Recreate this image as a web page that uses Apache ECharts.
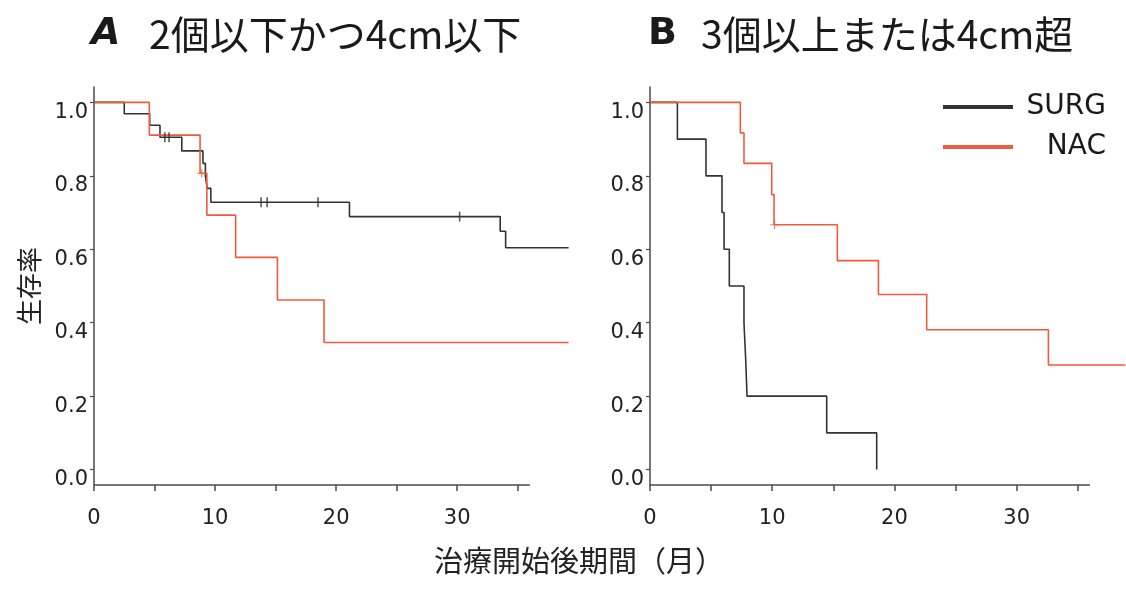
<!DOCTYPE html>
<html><head><meta charset="utf-8">
<script src="https://cdn.jsdelivr.net/npm/echarts@6/dist/echarts.min.js"></script>
<style>html,body{margin:0;padding:0;background:#fff}#c{width:1126px;height:590px}</style>
</head><body><div id="c"></div>
<script>
// Panel A: 2個以下かつ4cm以下
const aSurgT = [0, 2.5, 4.6, 5.45, 7.25, 9.0, 9.2, 9.35, 9.65, 21.1, 33.55, 34.0, 39.2];
const aSurgS = [1, 0.969, 0.938, 0.905, 0.868, 0.834, 0.80, 0.766, 0.728, 0.689, 0.649, 0.604, 0.604];
const aNacT = [0, 4.57, 8.76, 9.32, 11.7, 15.15, 19.0, 39.2];
const aNacS = [1, 0.911, 0.807, 0.693, 0.578, 0.462, 0.346, 0.346];
const aSurgCensT = [5.85, 6.2, 13.8, 14.3, 18.5, 30.2];
const aSurgCensS = [0.905, 0.905, 0.728, 0.728, 0.728, 0.689];
const aNacCensT = [8.9];
const aNacCensS = [0.807];
// Panel B: 3個以上または4cm超
const bSurgT = [0, 2.24, 4.58, 5.89, 6.06, 6.49, 7.69, 7.83, 7.94, 14.46, 18.55];
const bSurgS = [1, 0.9, 0.8, 0.7, 0.6, 0.5, 0.4, 0.3, 0.2, 0.1, 0];
const bNacT = [0, 7.39, 7.69, 9.96, 10.15, 15.33, 18.69, 22.64, 32.6, 38.9];
const bNacS = [1, 0.917, 0.834, 0.749, 0.667, 0.569, 0.477, 0.381, 0.285, 0.285];
const bNacCensT = [10.2];
const bNacCensS = [0.667];
// Axis ticks
const xTicks = [0, 5, 10, 15, 20, 25, 30, 35];
const xLabels = [0, 10, 20, 30];
const yTicks = [0, 0.2, 0.4, 0.6, 0.8, 1.0];
const xAxisEnd = 36;
const yMin = -0.042, yMax = 1.042;

const zip = (t, s) => t.map((v, i) => [v, s[i]]);
const BLACK = '#333333', RED = '#ef5b3c', AX = '#4a4a4a';

function xAxis(idx, max) {
  return {
    type: 'value', gridIndex: idx, min: 0, max: max,
    axisLine: { show: false, onZero: false },
    axisTick: { show: true, length: 6, customValues: xTicks, lineStyle: { color: AX, width: 1.5 } },
    axisLabel: { customValues: xLabels, margin: 23, fontSize: 21, color: '#222', fontFamily: 'DejaVu Sans' },
    splitLine: { show: false }
  };
}
function yAxis(idx, withName) {
  return {
    type: 'value', gridIndex: idx, min: yMin, max: yMax,
    name: withName ? '生存率' : '', nameLocation: 'middle', nameRotate: 90, nameGap: 52,
    nameTextStyle: { fontSize: 26, color: '#222', fontFamily: 'Noto Sans CJK JP' },
    axisLine: { show: true, onZero: false, lineStyle: { color: AX, width: 1.5 } },
    axisTick: { show: true, length: 4, customValues: yTicks, lineStyle: { color: AX, width: 1.2 } },
    axisLabel: { customValues: yTicks, margin: 6, fontSize: 21, color: '#222', fontFamily: 'DejaVu Sans',
      verticalAlign: 'top', lineHeight: 20, formatter: v => v.toFixed(1) },
    splitLine: { show: false }
  };
}
function line(name, idx, t, s, color, withAxis) {
  const o = { name: name, type: 'line', xAxisIndex: idx, yAxisIndex: idx, step: 'end',
    data: zip(t, s), showSymbol: false, symbol: 'none', lineStyle: { color: color, width: 1.6 },
    itemStyle: { color: color }, animation: false, z: 3 };
  if (withAxis) {
    o.markLine = { silent: true, animation: false, symbol: ['none', 'none'], label: { show: false },
      lineStyle: { color: AX, width: 1.5, type: 'solid' },
      data: [[{ coord: [0, yMin] }, { coord: [xAxisEnd, yMin] }]] };
  }
  return o;
}
function cens(idx, t, s, color, plus) {
  return { name: 'cens', type: 'scatter', xAxisIndex: idx, yAxisIndex: idx, data: zip(t, s),
    symbol: plus ? 'path://M-1,-0.12h2v0.24h-2z M-0.12,-1h0.24v2h-0.24z' : 'rect',
    symbolSize: plus ? [9, 9] : [1.6, 10], itemStyle: { color: color }, animation: false, z: 4, silent: true };
}

const chart = echarts.init(document.getElementById('c'), null, { renderer: 'canvas' });
chart.setOption({
  backgroundColor: '#fff',
  animation: false,
  title: [
    { left: 86, top: 10, text: '{a|A}{t|2個以下かつ4cm以下}',
      textStyle: { fontWeight: 'normal', rich: {
        a: { fontSize: 38, fontWeight: 'bold', fontStyle: 'italic', fontFamily: 'DejaVu Sans', color: '#1a1a1a', width: 58 },
        t: { fontSize: 39, fontWeight: 'normal', fontFamily: 'Noto Sans CJK JP', color: '#1a1a1a' } } } },
    { left: 643, top: 10, text: '{a|B}{t|3個以上または4cm超}',
      textStyle: { fontWeight: 'normal', rich: {
        a: { fontSize: 38, fontWeight: 'bold', fontFamily: 'DejaVu Sans', color: '#1a1a1a', width: 53 },
        t: { fontSize: 39, fontWeight: 'normal', fontFamily: 'Noto Sans CJK JP', color: '#1a1a1a' } } } },
    { left: 574, top: 541, textAlign: 'center', text: '治療開始後期間（月）',
      textStyle: { fontSize: 29, fontWeight: 'normal', fontFamily: 'Noto Sans CJK JP', color: '#222' } }
  ],
  legend: {
    data: ['SURG', 'NAC'], orient: 'vertical', left: 938, top: 88, itemWidth: 70, itemHeight: 4,
    itemGap: 12, icon: 'rect', formatter: n => '{r|' + n + '}',
    textStyle: { color: '#1a1a1a', rich: { r: { fontSize: 28, fontFamily: 'DejaVu Sans', lineHeight: 27, width: 88, align: 'right', color: '#1a1a1a' } } }
  },
  grid: [
    { left: 94, top: 87, width: 474.6, height: 398 },
    { left: 650, top: 87, width: 475.4, height: 398 }
  ],
  xAxis: [xAxis(0, 39.2), xAxis(1, 38.9)],
  yAxis: [yAxis(0, true), yAxis(1, false)],
  series: [
    line('SURG', 0, aSurgT, aSurgS, BLACK, true),
    line('NAC', 0, aNacT, aNacS, RED, false),
    line('SURG', 1, bSurgT, bSurgS, BLACK, true),
    line('NAC', 1, bNacT, bNacS, RED, false),
    cens(0, aSurgCensT, aSurgCensS, BLACK, false),
    cens(0, aNacCensT, aNacCensS, RED, true),
    cens(1, bNacCensT, bNacCensS, RED, true)
  ]
});
</script></body></html>
